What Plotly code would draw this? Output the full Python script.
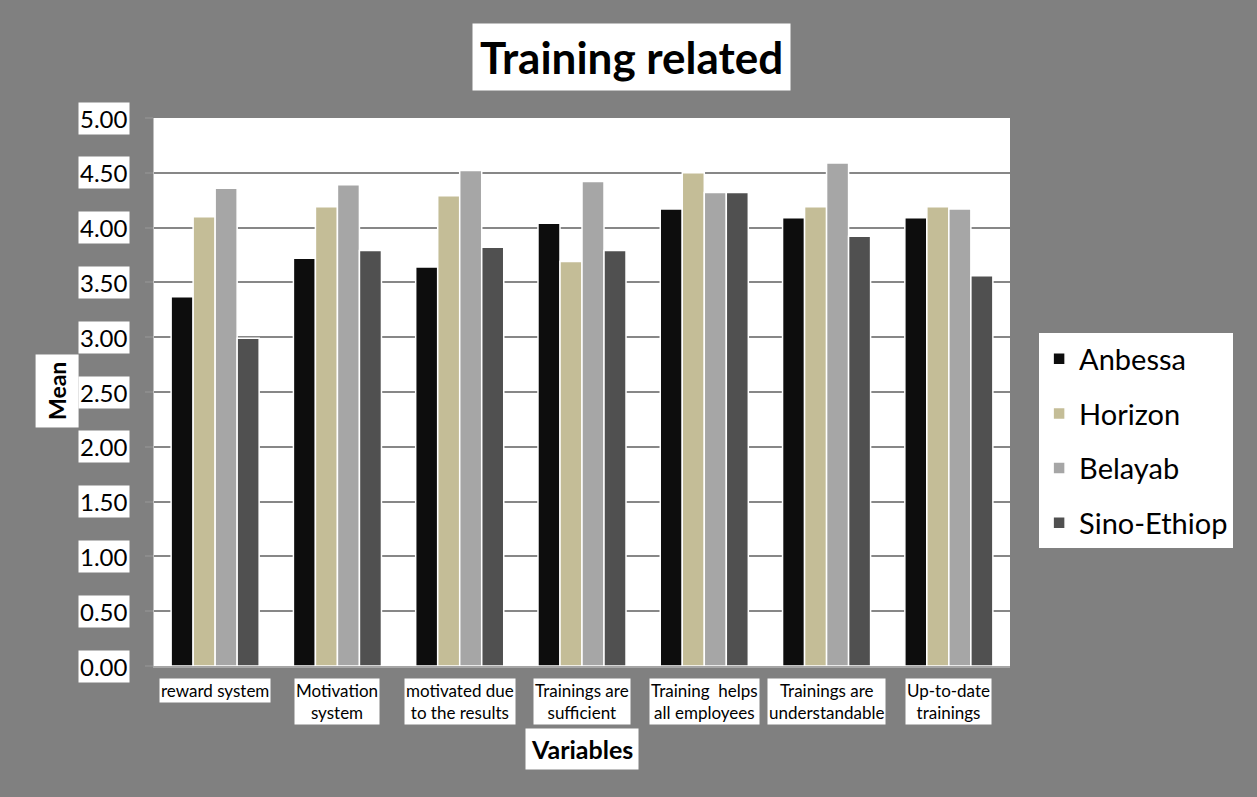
import plotly.graph_objects as go

# Survey means per training-related variable, by company
categories = [
    "reward system",
    "Motivation system",
    "motivated due to the results",
    "Trainings are sufficient",
    "Training helps all employees",
    "Trainings are understandable",
    "Up-to-date trainings",
]
category_labels = [
    "reward system",
    "Motivation<br>system",
    "motivated due<br>to the results",
    "Trainings are<br>sufficient",
    "Training&nbsp; helps<br>all employees",
    "Trainings are<br>understandable",
    "Up-to-date<br>trainings",
]
anbessa = [3.37, 3.72, 3.64, 4.04, 4.17, 4.09, 4.09]
horizon = [4.10, 4.19, 4.29, 3.69, 4.50, 4.19, 4.19]
belayab = [4.36, 4.39, 4.52, 4.42, 4.32, 4.59, 4.17]
sino_ethiop = [2.99, 3.79, 3.82, 3.79, 4.32, 3.92, 3.56]

series_names = ["Anbessa", "Horizon", "Belayab", "Sino-Ethiop"]
series_values = [anbessa, horizon, belayab, sino_ethiop]
series_colors = ["#0d0d0d", "#c4bd97", "#a6a6a6", "#505050"]

y_ticks = [0.0, 0.5, 1.0, 1.5, 2.0, 2.5, 3.0, 3.5, 4.0, 4.5, 5.0]

FONT = "Lato"

fig = go.Figure()
for name, vals, color in zip(series_names, series_values, series_colors):
    fig.add_trace(go.Bar(
        x=categories,
        y=vals,
        name=name,
        legendgroup=name,
        marker=dict(color=color, line=dict(color="white", width=1.5)),
    ))

annotations = []

# Title in a white box
annotations.append(dict(
    text="<b>Training related</b>", xref="paper", yref="paper",
    x=0.558, y=1.112, xanchor="center", yanchor="middle",
    showarrow=False, bgcolor="white", borderpad=7,
    font=dict(family=FONT, size=44, color="black"),
))

# Y tick labels on white boxes
for t in y_ticks:
    annotations.append(dict(
        text=f"{t:.2f}", xref="paper", yref="y", x=0, y=t,
        xanchor="right", yanchor="middle", xshift=-24,
        showarrow=False, bgcolor="white", borderpad=1,
        font=dict(family=FONT, size=24, color="black"),
    ))

# Category labels on white boxes
for cat, lab in zip(categories, category_labels):
    annotations.append(dict(
        text=lab, xref="x", yref="paper", x=cat, y=0,
        xanchor="center", yanchor="top", yshift=-12,
        showarrow=False, bgcolor="white", borderpad=1,
        font=dict(family=FONT, size=17, color="black"),
    ))

# Axis titles
annotations.append(dict(
    text="<b>Mean</b>", xref="paper", yref="paper", x=-0.1127, y=0.501,
    xanchor="center", yanchor="middle", textangle=-90,
    showarrow=False, bgcolor="white", borderpad=7,
    font=dict(family=FONT, size=23, color="black"),
))
annotations.append(dict(
    text="<b>Variables</b>", xref="paper", yref="paper", x=0.5, y=0,
    xanchor="center", yanchor="top", yshift=-61.5,
    showarrow=False, bgcolor="white", borderpad=5,
    font=dict(family=FONT, size=25, color="black"),
))

fig.update_layout(
    width=1257, height=797,
    margin=dict(l=154, r=247, t=118, b=131),
    paper_bgcolor="#808080",
    plot_bgcolor="white",
    barmode="group",
    bargap=0.28,
    bargroupgap=0,
    showlegend=True,
    legend=dict(
        x=1.034, y=0.607, xanchor="left", yanchor="top",
        bgcolor="white", borderwidth=0,
        font=dict(family=FONT, size=29, color="black"),
        tracegroupgap=14, traceorder="grouped",
    ),
    annotations=annotations,
)
fig.update_xaxes(
    showticklabels=False, showgrid=False, ticks="",
    showline=True, linecolor="#a6a6a6", linewidth=2,
)
fig.update_yaxes(
    range=[0, 5], tickvals=y_ticks, showticklabels=False,
    showgrid=True, gridcolor="#878787", gridwidth=2,
    ticks="outside", ticklen=8, tickcolor="#8c8c8c", tickwidth=2,
    showline=True, linecolor="#bfbfbf", linewidth=1,
    zeroline=False,
)

fig.write_html("out.html")
